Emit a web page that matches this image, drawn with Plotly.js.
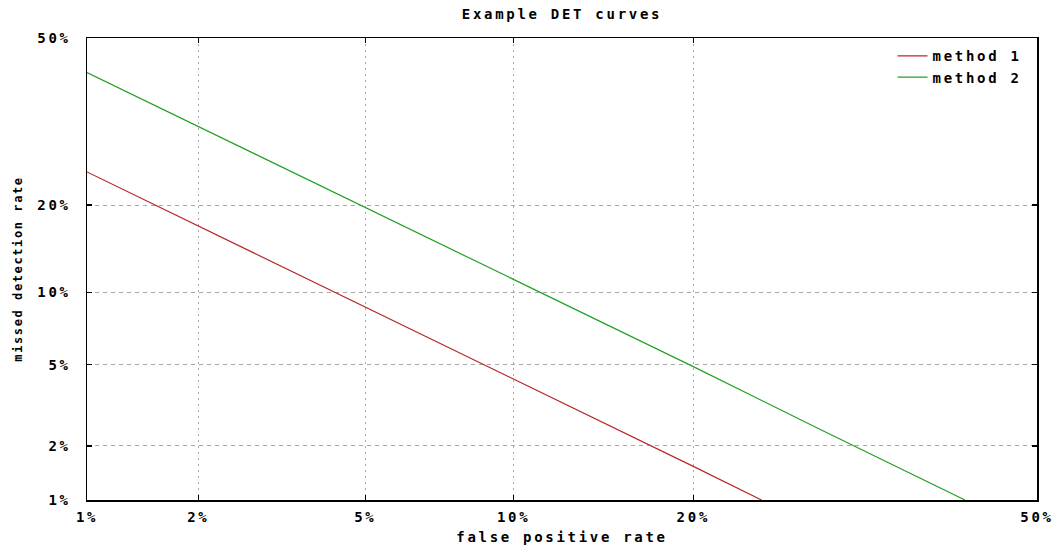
<!DOCTYPE html>
<html>
<head>
<meta charset="utf-8">
<script src="https://cdn.plot.ly/plotly-3.0.1.min.js"></script>
<style>
  body { margin: 0; background: #fff; }
  #chart { width: 1055px; height: 548px; }
  .xtick text, .ytick text, .xtitle, .gtitle, .legendtext { letter-spacing: 2.7px; }
  .ytitle { letter-spacing: 1.6px; }
</style>
</head>
<body>
<div id="chart"></div>
<script>
// Rates in percent
const tickPercents = [1, 2, 5, 10, 20, 50];
const tickLabels = ["1%", "2%", "5%", "10%", "20%", "50%"];

const method1FPR = [1, 2, 5, 10, 20, 25];
const method1MDR = [25.0, 17.2, 8.8, 4.3, 1.55, 1.0];

const method2FPR = [1, 2, 5, 10, 20, 30, 43];
const method2MDR = [43.1, 32.8, 19.6, 11.2, 4.9, 2.4, 1.0];

// Normal deviate (probit) scale used by DET plots
function probit(p) {
  const a = [-3.969683028665376e+01, 2.209460984245205e+02, -2.759285104469687e+02, 1.383577518672690e+02, -3.066479806614716e+01, 2.506628277459239e+00];
  const b = [-5.447609879822406e+01, 1.615858368580409e+02, -1.556989798598866e+02, 6.680131188771972e+01, -1.328068155288572e+01];
  const c = [-7.784894002430293e-03, -3.223964580411365e-01, -2.400758277161838e+00, -2.549732539343734e+00, 4.374664141464968e+00, 2.938163982698783e+00];
  const d = [7.784695709041462e-03, 3.224671290700398e-01, 2.445134137142996e+00, 3.754408661907416e+00];
  const pl = 0.02425, ph = 1 - pl;
  let q, r;
  if (p < pl) {
    q = Math.sqrt(-2 * Math.log(p));
    return (((((c[0]*q+c[1])*q+c[2])*q+c[3])*q+c[4])*q+c[5]) / ((((d[0]*q+d[1])*q+d[2])*q+d[3])*q+1);
  } else if (p <= ph) {
    q = p - 0.5; r = q * q;
    return (((((a[0]*r+a[1])*r+a[2])*r+a[3])*r+a[4])*r+a[5])*q / (((((b[0]*r+b[1])*r+b[2])*r+b[3])*r+b[4])*r+1);
  } else {
    q = Math.sqrt(-2 * Math.log(1 - p));
    return -(((((c[0]*q+c[1])*q+c[2])*q+c[3])*q+c[4])*q+c[5]) / ((((d[0]*q+d[1])*q+d[2])*q+d[3])*q+1);
  }
}
const pr = v => probit(v / 100);

const FONT = "DejaVu Sans Mono, Liberation Mono, monospace";
const mainFont = { family: FONT, size: 14, color: "#000", weight: "bold" };

const traces = [
  { x: method1FPR.map(pr), y: method1MDR.map(pr), mode: "lines", name: "method 1",
    line: { color: "#b82828", width: 1.2 } },
  { x: method2FPR.map(pr), y: method2MDR.map(pr), mode: "lines", name: "method 2",
    line: { color: "#22a022", width: 1.2 } }
];

const axisCommon = {
  tickmode: "array",
  tickvals: tickPercents.map(pr),
  ticktext: tickLabels,
  range: [pr(1), pr(50)],
  showline: true, linecolor: "#000", linewidth: 1.5, mirror: "ticks",
  ticks: "inside", ticklen: 5, tickcolor: "#000", tickwidth: 1.5,
  showgrid: true, gridcolor: "#a8a8a8", gridwidth: 1,
  zeroline: false,
  tickfont: mainFont
};

const layout = {
  width: 1055, height: 548,
  margin: { l: 87, r: 18, t: 38, b: 48 },
  paper_bgcolor: "#fff", plot_bgcolor: "#fff",
  title: { text: "Example DET curves", xref: "paper", x: 0.5, xanchor: "center", y: 0.975, yanchor: "middle",
           font: mainFont },
  xaxis: Object.assign({}, axisCommon, {
    griddash: "2px,4px",
    ticklabelstandoff: 4,
    title: { text: "false positive rate", standoff: 8, font: mainFont }
  }),
  yaxis: Object.assign({}, axisCommon, {
    griddash: "4px,4px",
    ticklabelstandoff: 12,
    title: { text: "missed detection rate", standoff: 12,
             font: { family: FONT, size: 12, color: "#000", weight: "bold" } }
  }),
  showlegend: true,
  legend: { x: 0.99, xanchor: "right", y: 0.995, yanchor: "top",
            bgcolor: "rgba(0,0,0,0)", borderwidth: 0, tracegroupgap: 0,
            font: mainFont }
};

Plotly.newPlot("chart", traces, layout, { displayModeBar: false, staticPlot: true });
</script>
</body>
</html>
